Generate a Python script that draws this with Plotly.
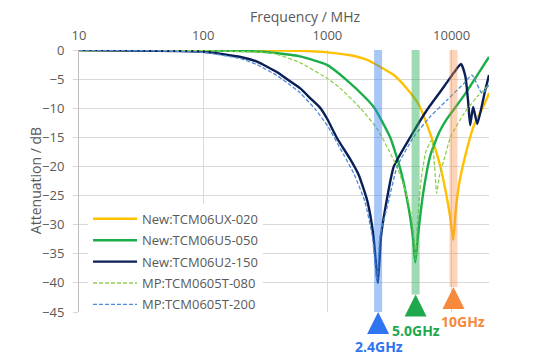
import math
import plotly.graph_objects as go

# ---------------- data ----------------
ux020_f = [10, 100, 300, 600, 1000, 1530, 2090, 2565, 3425, 4390, 5450, 6760, 8000, 9000, 9700, 10300, 10800, 11500, 12600, 15100, 18200, 20000]
ux020_db = [0, -0.02, -0.05, -0.15, -0.4, -0.9, -1.7, -2.7, -4.3, -6.7, -9.4, -14.5, -19.5, -24.5, -28.5, -32.6, -27.5, -23, -19, -13, -9.5, -7.4]

u5050_f = [10, 100, 300, 600, 1000, 1400, 2090, 2400, 3200, 3870, 4500, 4900, 5100, 5350, 5960, 6760, 8000, 9190, 12600, 16100, 20000]
u5050_db = [0, -0.05, -0.3, -1.1, -2.6, -5, -8.5, -10, -15, -20.5, -27, -32.5, -36.5, -32, -24, -18, -14, -11.8, -7.8, -4.3, -1.2]

u2150_f = [10, 100, 200, 271, 400, 503, 605, 729, 880, 1000, 1200, 1530, 1790, 2100, 2350, 2550, 2700, 2940, 3425, 4670, 6330, 8670, 10500, 11900, 12900, 13600, 14100, 14900, 16100, 18500, 20000]
u2150_db = [0, -0.3, -1.2, -2.0, -3.9, -5.4, -6.6, -8.3, -10, -11.9, -15.2, -18.8, -21.5, -26, -32, -40, -32, -26.9, -20, -14.9, -10.3, -6.3, -3.8, -2.4, -4.5, -9, -12.9, -9.8, -12.7, -7.2, -4.3]

t080_f = [10, 100, 369, 605, 1000, 1273, 1845, 2512, 3120, 3700, 4300, 4700, 5000, 5130, 5300, 5700, 6200, 6900, 7300, 7570, 8000, 8670, 9820, 12600, 16100, 20000]
t080_db = [0, -0.1, -0.6, -2.2, -4.9, -6.6, -10, -13.5, -17.2, -20.5, -24.5, -28, -33, -36, -30, -22, -17.5, -15.5, -20, -24.6, -21.5, -18.9, -14.9, -10.9, -8.0, -6.0]

t200_f = [10, 100, 200, 270, 400, 500, 605, 800, 1000, 1353, 1630, 2000, 2300, 2500, 2650, 3035, 3650, 4965, 6760, 9190, 12600, 14600, 17600, 20000]
t200_db = [0, -0.4, -1.5, -2.5, -4.5, -6, -7.4, -10.2, -13, -18, -21.2, -26, -32, -39.5, -32, -26.9, -20, -14.9, -11.4, -8.6, -5.7, -4.3, -7.5, -6.0]

series_names = ["New:TCM06UX-020", "New:TCM06U5-050", "New:TCM06U2-150", "MP:TCM0605T-080", "MP:TCM0605T-200"]

band_labels = ["2.4GHz", "5.0GHz", "10GHz"]
band_f = [2560, 5130, 10350]          # where the highlighted bands sit
band_bottom = [-45, -42, -40.7]       # band ends / arrow tips
label_f = [2580, 5200, 12400]
label_db = [-50.9, -48.2, -46.7]

x_tickvals = [10, 100, 1000, 10000]
x_ticktext = ["10", "100", "1000", "10000"]
y_range = [-45, 0]
y_tickvals = [0, -5, -10, -15, -20, -25, -30, -35, -40, -45]

# ---------------- styling ----------------
FONT = "Open Sans"
GRAY = "#595959"
GRID = "#d9d9d9"

fig = go.Figure()

curve_specs = [
    (ux020_f, ux020_db, "#ffc000", 2.4, "solid"),
    (u5050_f, u5050_db, "#1aae4a", 2.4, "solid"),
    (u2150_f, u2150_db, "#0a1f55", 2.4, "solid"),
    (t080_f, t080_db, "#92d050", 1.3, "4px,2px"),
    (t200_f, t200_db, "#4f8ad8", 1.3, "4px,2px"),
]
for i, ((xs, ys, col, w, dash), name) in enumerate(zip(curve_specs, series_names)):
    fig.add_trace(go.Scatter(x=xs, y=ys, mode="lines", name=name, legendgroup=f"g{i}",
                             line=dict(color=col, width=w, dash=dash, shape="spline", smoothing=0.5)))

band_cols = ["#3d85f0", "#2bb05b", "#f5904a"]
band_alpha = [0.45, 0.45, 0.38]
tri_cols = ["#2f74f0", "#1fa84c", "#f6893b"]

for f, bot, col, a in zip(band_f, band_bottom, band_cols, band_alpha):
    fig.add_trace(go.Scatter(x=[f, f], y=[0, bot], mode="lines", showlegend=False,
                             opacity=a, line=dict(color=col, width=8), hoverinfo="skip",
                             cliponaxis=False))

fig.add_trace(go.Scatter(x=band_f, y=band_bottom, mode="markers", showlegend=False,
                         marker=dict(symbol="arrow-up", size=22, color=tri_cols, line=dict(width=0)),
                         cliponaxis=False, hoverinfo="skip"))

annotations = [
    dict(text="Frequency / MHz", xref="paper", yref="paper", x=0.551, y=1.126,
         xanchor="center", yanchor="middle", borderpad=0,
         showarrow=False, font=dict(family=FONT, size=14, color=GRAY)),
    dict(text="Attenuation / dB", xref="paper", yref="paper", x=-0.107, y=0.5, textangle=-90,
         xanchor="center", yanchor="middle",
         showarrow=False, font=dict(family=FONT, size=14, color=GRAY)),
]
# band labels sit below the plot area -> place them in paper units along y
for lab, f, db, col in zip(band_labels, label_f, label_db, tri_cols):
    ypos = (db - y_range[0]) / (y_range[1] - y_range[0])
    annotations.append(dict(text=f"<b>{lab}</b>", xref="x", yref="paper", x=math.log10(f), y=ypos,
                            xanchor="center", yanchor="middle",
                            showarrow=False, font=dict(family=FONT, size=14, color=col)))

# the page body adds an 8px offset; the figure is sized/margined so the plot
# area lands at x 79..489, y 50..312 on the 540x364 window
fig.update_layout(
    width=532, height=356,
    margin=dict(l=71, r=51, t=42, b=52, autoexpand=False),
    paper_bgcolor="white", plot_bgcolor="white",
    font=dict(family=FONT, size=13, color=GRAY),
    showlegend=True,
    legend=dict(x=0.022, y=-0.03, xanchor="left", yanchor="bottom",
                bgcolor="white", borderwidth=0, font=dict(family=FONT, size=13, color=GRAY),
                itemwidth=44, tracegroupgap=1.5),
    xaxis=dict(type="log", range=[1, 4.301], side="top", tickvals=x_tickvals, ticktext=x_ticktext,
               showgrid=True, gridcolor=GRID, gridwidth=1, zeroline=False, showline=False,
               ticks="", ticklabelstandoff=6, tickfont=dict(size=13, color=GRAY), automargin=False),
    yaxis=dict(range=y_range, tickvals=y_tickvals, showgrid=True, gridcolor=GRID, gridwidth=1,
               zeroline=False, showline=True, linecolor="#bfbfbf", linewidth=1,
               ticks="outside", ticklen=5, tickcolor=GRID, ticklabelstandoff=6,
               tickfont=dict(size=13, color=GRAY), automargin=False),
    annotations=annotations,
)

fig.write_html("out.html")
